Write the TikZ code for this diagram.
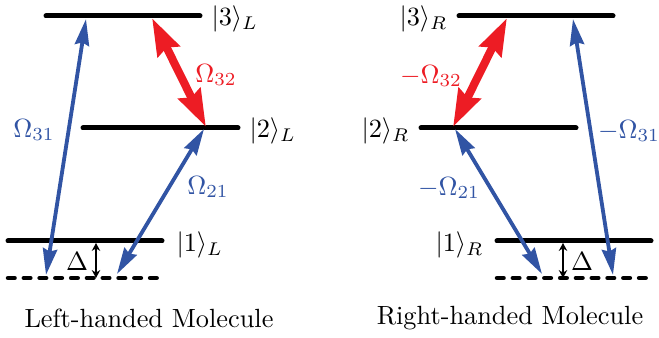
\documentclass[tikz,border=0pt]{standalone}
\usetikzlibrary{arrows.meta}
\definecolor{bluearr}{RGB}{49,84,164}
\definecolor{redarr}{RGB}{237,28,36}
\tikzset{
  level/.style={line width=1.9pt, line cap=round},
  virtual/.style={line width=1.7pt, line cap=round, dash pattern=on 2.5pt off 3.5pt},
  bluecoupling/.style={draw=bluearr, line width=1.45pt, {Stealth[length=10pt,width=5.4pt,inset=1pt]}-{Stealth[length=10pt,width=5.4pt,inset=1pt]}},
  redcoupling/.style={draw=redarr, line width=3.1pt, {Stealth[length=14pt,width=9pt,inset=1.5pt]}-{Stealth[length=14pt,width=9pt,inset=1.5pt]}},
  detuning/.style={line width=0.8pt, {Stealth[length=3pt,width=3.2pt]}-{Stealth[length=3pt,width=3.2pt]}},
  bluelab/.style={text=bluearr, inner sep=0pt},
  redlab/.style={text=redarr, inner sep=0pt},
  ketlab/.style={inner sep=0pt},
}
\begin{document}
\begin{tikzpicture}[x=0.38pt,y=-0.38pt]
\useasboundingbox (0,0) rectangle (659,338);
% ---------------- Left-handed ----------------
\coordinate (L3a) at (46,16);  \coordinate (L3b) at (200,16);
\coordinate (L2a) at (83,128); \coordinate (L2b) at (238,128);
\coordinate (L1a) at (8,241);  \coordinate (L1b) at (162,241);
\coordinate (L0a) at (8,278);  \coordinate (L0b) at (162,278);
\draw[level] (L3a) -- (L3b);
\draw[level] (L2a) -- (L2b);
\draw[level] (L1a) -- (L1b);
\draw[virtual] (L0a) -- (L0b);
\node[ketlab, anchor=west] (k3L) at (211,19) {$|3\rangle_L$};
\node[ketlab, anchor=west] (k2L) at (249,131) {$|2\rangle_L$};
\node[ketlab, anchor=west] (k1L) at (176,245) {$|1\rangle_L$};
\coordinate (A31b) at (46,275); \coordinate (A31t) at (86,19);
\coordinate (A21b) at (117,274); \coordinate (A21t) at (204,129);
\coordinate (A32t) at (152,18); \coordinate (A32b) at (206,127);
\coordinate (DLt) at (96,243); \coordinate (DLb) at (96,278);
\draw[bluecoupling] (A31b) -- (A31t);
\draw[bluecoupling] (A21b) -- (A21t);
\draw[redcoupling] (A32t) -- (A32b);
\draw[detuning] (DLt) -- (DLb);
\node[bluelab] (o31L) at (34,130) {$\Omega_{31}$};
\node[redlab] (o32L) at (216,75) {$\Omega_{32}$};
\node[bluelab] (o21L) at (208,187) {$\Omega_{21}$};
\node[inner sep=0pt] (dL) at (77,262) {$\Delta$};
\node[inner sep=0pt] (capL) at (149,318) {Left-handed Molecule};
% ---------------- Right-handed ----------------
\coordinate (R3a) at (459,16);  \coordinate (R3b) at (613,16);
\coordinate (R2a) at (421,128); \coordinate (R2b) at (576,128);
\coordinate (R1a) at (497,241); \coordinate (R1b) at (651,241);
\coordinate (R0a) at (497,278); \coordinate (R0b) at (651,278);
\draw[level] (R3a) -- (R3b);
\draw[level] (R2a) -- (R2b);
\draw[level] (R1a) -- (R1b);
\draw[virtual] (R0a) -- (R0b);
\node[ketlab, anchor=east] (k3R) at (448,19) {$|3\rangle_R$};
\node[ketlab, anchor=east] (k2R) at (410,131) {$|2\rangle_R$};
\node[ketlab, anchor=east] (k1R) at (484,245) {$|1\rangle_R$};
\coordinate (B31b) at (613,275); \coordinate (B31t) at (573,19);
\coordinate (B21b) at (542,274); \coordinate (B21t) at (455,129);
\coordinate (B32t) at (507,18); \coordinate (B32b) at (453,127);
\coordinate (DRt) at (563,243); \coordinate (DRb) at (563,278);
\draw[bluecoupling] (B31b) -- (B31t);
\draw[bluecoupling] (B21b) -- (B21t);
\draw[redcoupling] (B32t) -- (B32b);
\draw[detuning] (DRt) -- (DRb);
\node[bluelab] (o31R) at (629,131) {$-\Omega_{31}$};
\node[redlab] (o32R) at (431,76) {$-\Omega_{32}$};
\node[bluelab] (o21R) at (449,188) {$-\Omega_{21}$};
\node[inner sep=0pt] (dR) at (582,262) {$\Delta$};
\node[inner sep=0pt] (capR) at (510,318) {Right-handed Molecule};
\end{tikzpicture}
\end{document}
